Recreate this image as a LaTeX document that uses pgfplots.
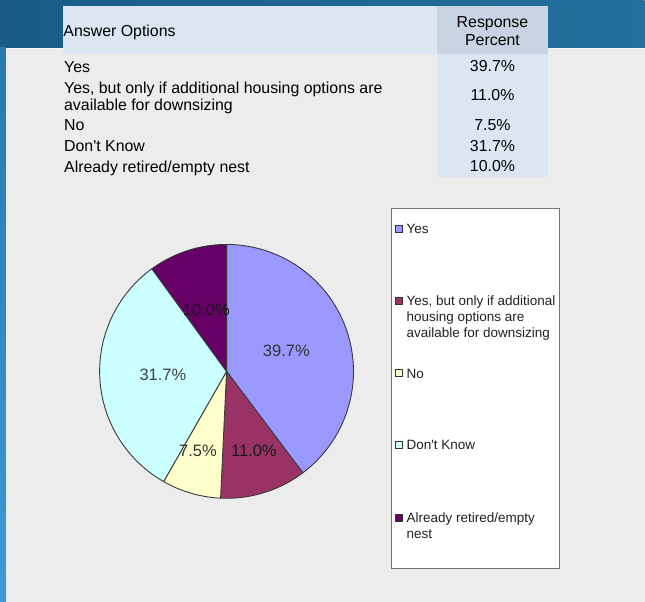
\documentclass[border=0pt]{standalone}
\usepackage{pgfplots}
\pgfplotsset{compat=1.18}
\usepackage{fontspec}
\setmainfont{Liberation Sans}
\newfontfamily\lib{Liberation Sans}

\definecolor{cyes}{HTML}{9999FF}
\definecolor{cyesbut}{HTML}{993366}
\definecolor{cno}{HTML}{FFFFCC}
\definecolor{cdk}{HTML}{CCFFFF}
\definecolor{calr}{HTML}{660066}
\definecolor{band}{HTML}{22709E}
\definecolor{bandL}{HTML}{1A5B87}
\definecolor{panel}{HTML}{ECECEC}
\definecolor{hdr}{HTML}{DCE6F2}
\definecolor{hdrtwo}{HTML}{C8D4E1}
\definecolor{stripT}{HTML}{2A78AC}
\definecolor{stripB}{HTML}{3C9CD4}
\definecolor{pieline}{HTML}{3A3A3A}
\definecolor{legtext}{HTML}{222222}

% data (response percent)
\pgfmathsetmacro\pA{39.7}% Yes
\pgfmathsetmacro\pB{11.0}% Yes, but only if ...
\pgfmathsetmacro\pC{7.5}%  No
\pgfmathsetmacro\pD{31.7}% Don't Know
\pgfmathsetmacro\pE{10.0}% Already retired/empty nest
\pgfmathsetmacro\tot{\pA+\pB+\pC+\pD+\pE}
\pgfmathsetmacro\aA{\pA/\tot*360}
\pgfmathsetmacro\aB{(\pA+\pB)/\tot*360}
\pgfmathsetmacro\aC{(\pA+\pB+\pC)/\tot*360}
\pgfmathsetmacro\aD{(\pA+\pB+\pC+\pD)/\tot*360}
\def\cx{226.7}
\def\cy{371.6}
\def\rr{127}

\newcommand\tabfont{\lib\fontsize{15.9}{18}\selectfont}
\newcommand\legfont{\lib\fontsize{13.5}{16}\selectfont}
\newcommand\piefont{\lib\fontsize{16.5}{19}\selectfont}

\begin{document}
\begin{tikzpicture}
\begin{axis}[
  at={(0,0)}, anchor=south west,
  width=645pt, height=602pt, scale only axis,
  xmin=0, xmax=645, ymin=0, ymax=602, y dir=reverse,
  hide axis, clip=false]

% background
\shade[left color=bandL, right color=band] (0,0) rectangle (645,60);
\shade[top color=stripT, bottom color=stripB] (0,48) rectangle (6,602);
\fill[panel] (6,48.3) rectangle (645,602);
\draw[white!60!panel, line width=0.8pt] (6,48.6) -- (645,48.6);

% table
\fill[hdr] (63.3,6) rectangle (437.3,54.3);
\fill[hdrtwo] (437.3,6) rectangle (548.3,54.3);
\fill[hdr] (437.3,54.3) rectangle (548.3,176.7);

\node[anchor=base west, inner sep=0, font=\tabfont] at (63.3,36.7) {Answer Options};
\node[anchor=base, inner sep=0, font=\tabfont] at (492.8,27.3) {Response};
\node[anchor=base, inner sep=0, font=\tabfont] at (492.8,45.7) {Percent};

\node[anchor=base west, inner sep=0, font=\tabfont] at (64,72.3) {Yes};
\node[anchor=base west, inner sep=0, font=\tabfont] at (64,93.3) {Yes, but only if additional housing options are};
\node[anchor=base west, inner sep=0, font=\tabfont] at (64,110.7) {available for downsizing};
\node[anchor=base west, inner sep=0, font=\tabfont] at (64,131) {No};
\node[anchor=base west, inner sep=0, font=\tabfont] at (64,151.7) {Don't Know};
\node[anchor=base west, inner sep=0, font=\tabfont] at (64,172.3) {Already retired/empty nest};

\node[anchor=base, inner sep=0, font=\tabfont] at (492.8,71.7) {39.7\%};
\node[anchor=base, inner sep=0, font=\tabfont] at (492.8,101) {11.0\%};
\node[anchor=base, inner sep=0, font=\tabfont] at (492.8,131) {7.5\%};
\node[anchor=base, inner sep=0, font=\tabfont] at (492.8,151.7) {31.7\%};
\node[anchor=base, inner sep=0, font=\tabfont] at (492.8,171.7) {10.0\%};

% pie
\addplot[fill=cyes, draw=pieline, line width=0.9pt, line join=round, domain=0:\aA, samples=90, variable=\t]
  ({\cx+\rr*sin(\t)},{\cy-\rr*cos(\t)}) -- (\cx,\cy) -- cycle;
\addplot[fill=cyesbut, draw=pieline, line width=0.9pt, line join=round, domain=\aA:\aB, samples=40, variable=\t]
  ({\cx+\rr*sin(\t)},{\cy-\rr*cos(\t)}) -- (\cx,\cy) -- cycle;
\addplot[fill=cno, draw=pieline, line width=0.9pt, line join=round, domain=\aB:\aC, samples=30, variable=\t]
  ({\cx+\rr*sin(\t)},{\cy-\rr*cos(\t)}) -- (\cx,\cy) -- cycle;
\addplot[fill=cdk, draw=pieline, line width=0.9pt, line join=round, domain=\aC:\aD, samples=80, variable=\t]
  ({\cx+\rr*sin(\t)},{\cy-\rr*cos(\t)}) -- (\cx,\cy) -- cycle;
\addplot[fill=calr, draw=pieline, line width=0.9pt, line join=round, domain=\aD:360, samples=40, variable=\t]
  ({\cx+\rr*sin(\t)},{\cy-\rr*cos(\t)}) -- (\cx,\cy) -- cycle;

% pie labels
\node[anchor=base, inner sep=0, font=\piefont, text=black!80] at (286.5,356.7) {39.7\%};
\node[anchor=base, inner sep=0, font=\piefont, text=black!90] at (254,456.7) {11.0\%};
\node[anchor=base, inner sep=0, font=\piefont, text=black!80] at (198,456.7) {7.5\%};
\node[anchor=base, inner sep=0, font=\piefont, text=black!75] at (163,380.7) {31.7\%};
\node[anchor=base, inner sep=0, font=\piefont, text=black!90] at (206.5,316) {10.0\%};

% legend
\draw[fill=white, draw=black!55, line width=0.9pt] (391.7,208.3) rectangle (560,568.3);
\filldraw[fill=cyes, draw=black!80, line width=0.6pt] (396,225.7) rectangle (402.5,232.2);
\filldraw[fill=cyesbut, draw=black!80, line width=0.6pt] (396,297.7) rectangle (402.5,304.2);
\filldraw[fill=cno, draw=black!80, line width=0.6pt] (396,370) rectangle (402.5,376.5);
\filldraw[fill=cdk, draw=black!80, line width=0.6pt] (396,441.7) rectangle (402.5,448.2);
\filldraw[fill=calr, draw=black!80, line width=0.6pt] (396,515) rectangle (402.5,521.5);

\node[anchor=base west, inner sep=0, font=\legfont, text=legtext] at (406.7,234) {Yes};
\node[anchor=base west, inner sep=0, font=\legfont, text=legtext] at (406.7,306) {Yes, but only if additional};
\node[anchor=base west, inner sep=0, font=\legfont, text=legtext] at (406.7,322) {housing options are};
\node[anchor=base west, inner sep=0, font=\legfont, text=legtext] at (406.7,338) {available for downsizing};
\node[anchor=base west, inner sep=0, font=\legfont, text=legtext] at (406.7,378.3) {No};
\node[anchor=base west, inner sep=0, font=\legfont, text=legtext] at (406.7,450) {Don't Know};
\node[anchor=base west, inner sep=0, font=\legfont, text=legtext] at (406.7,523.3) {Already retired/empty};
\node[anchor=base west, inner sep=0, font=\legfont, text=legtext] at (406.7,539) {nest};
\end{axis}
\end{tikzpicture}
\end{document}
